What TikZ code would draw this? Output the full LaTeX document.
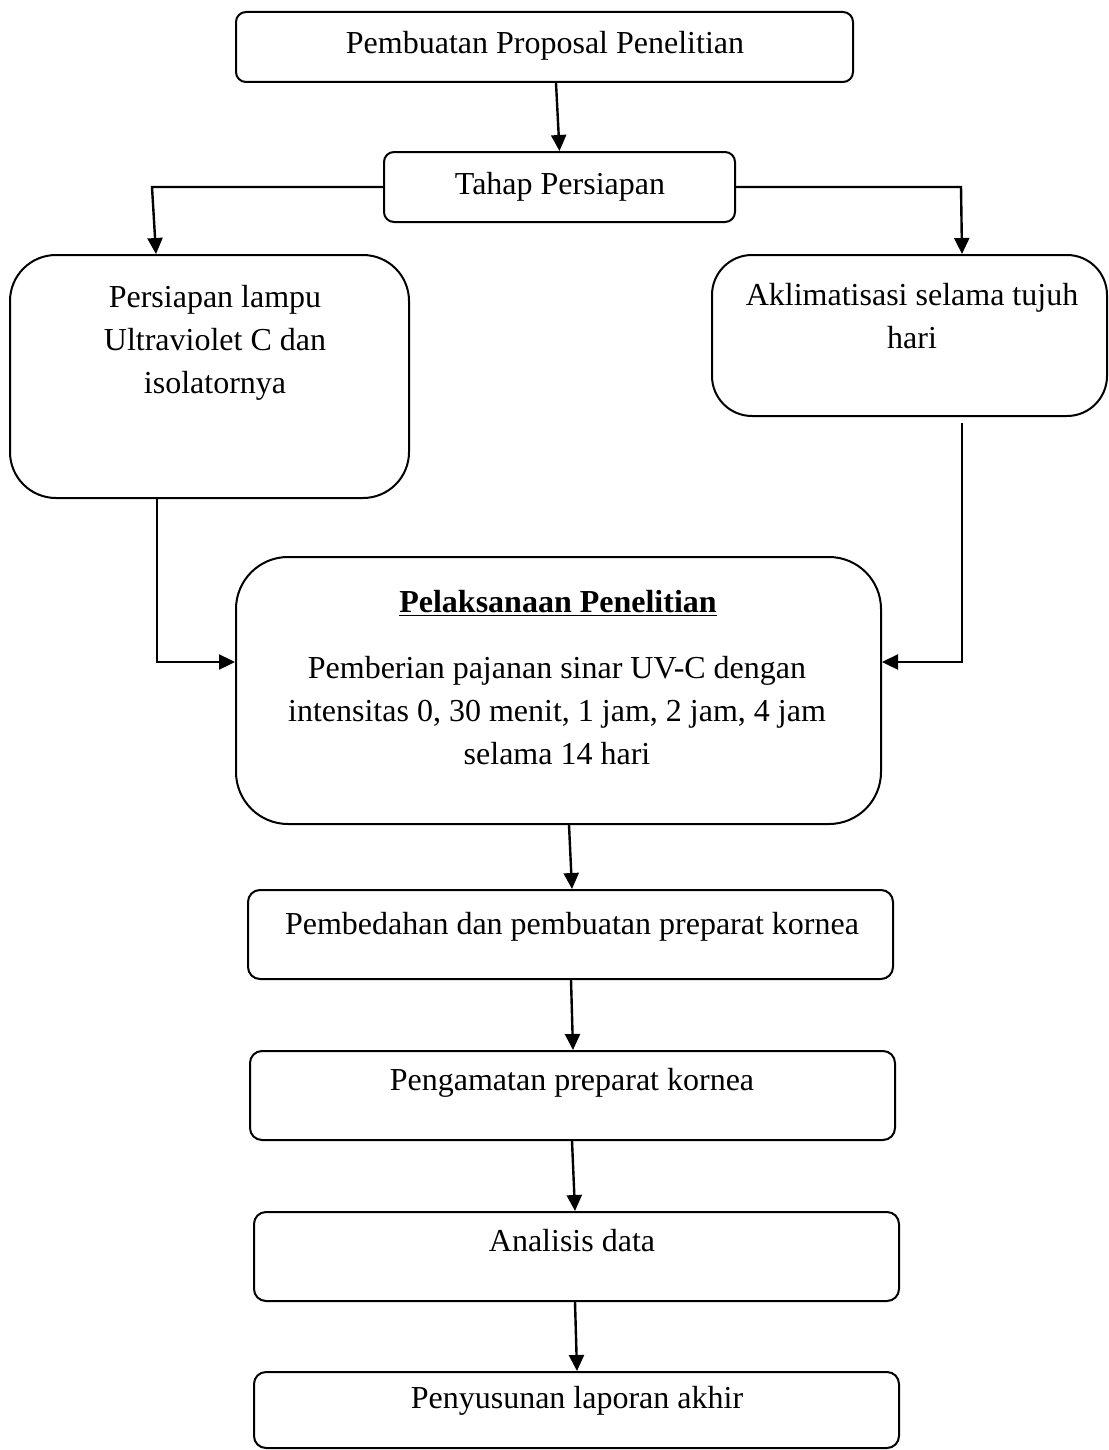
\documentclass[tikz,border=0pt]{standalone}
\usepackage{fontspec}
\setmainfont{Liberation Serif}
\usetikzlibrary{arrows.meta}
\begin{document}
\begin{tikzpicture}[x=0.5pt,y=-0.5pt,
  box/.style={draw, line width=1pt, inner sep=0pt},
  lbl/.style={inner sep=0pt, align=center, anchor=base, font=\fontsize{16}{21.5}\selectfont},
  arr/.style={line width=1.2pt, -{Triangle[length=8pt,width=7.5pt]}}]
\useasboundingbox (0,0) rectangle (1108,1450);
% boxes
\node[box, rounded corners=5pt, minimum width=308.5pt, minimum height=35pt] (b1) at (544.5,47) {};
\node[box, rounded corners=5pt, minimum width=175.5pt, minimum height=35pt] (b2) at (559.5,187) {};
\node[box, rounded corners=23pt, minimum width=199.5pt, minimum height=121.5pt] (b3) at (209.5,376.5) {};
\node[box, rounded corners=20pt, minimum width=197.5pt, minimum height=80.5pt] (b4) at (909.5,335.5) {};
\node[box, rounded corners=26pt, minimum width=322.5pt, minimum height=133.5pt] (b5) at (558.5,690.5) {};
\node[box, rounded corners=6pt, minimum width=322.5pt, minimum height=44.5pt] (b6) at (570.5,934.5) {};
\node[box, rounded corners=6pt, minimum width=322.5pt, minimum height=44.5pt] (b7) at (572.5,1095.5) {};
\node[box, rounded corners=6pt, minimum width=322.5pt, minimum height=44.5pt] (b8) at (576.5,1256.5) {};
\node[box, rounded corners=6pt, minimum width=322.5pt, minimum height=38pt] (b9) at (576.5,1410) {};
% labels
\node[lbl] (t1) at (545,54) {Pembuatan Proposal Penelitian};
\node[lbl] (t2) at (560,194) {Tahap Persiapan};
\node[lbl] (t3) at (215,393) {Persiapan lampu\\Ultraviolet C dan\\isolatornya};
\node[lbl] (t4) at (912,348) {Aklimatisasi selama tujuh\\hari};
\node[lbl] (t5a) at (558,612) {\underline{\textbf{Pelaksanaan Penelitian}}};
\node[lbl] (t5b) at (557,764) {Pemberian pajanan sinar UV-C dengan\\intensitas 0, 30 menit, 1 jam, 2 jam, 4 jam\\selama 14 hari};
\node[lbl] (t6) at (572,934) {Pembedahan dan pembuatan preparat kornea};
\node[lbl] (t7) at (572,1090) {Pengamatan preparat kornea};
\node[lbl] (t8) at (572,1251) {Analisis data};
\node[lbl] (t9) at (577,1408) {Penyusunan laporan akhir};
% connectors
\draw[arr] ([xshift=5.75pt]b1.south) -- (b2.north);
\draw[arr] (b2.west) -- ++(-231,0) -- ([xshift=-26.75pt]b3.north);
\draw[arr] (b2.east) -- ++(225,0) -- ([xshift=26.25pt]b4.north);
\draw[arr] ([xshift=-26.25pt]b3.south) |- ([yshift=14.25pt]b5.west);
\draw[arr] ([xshift=26.25pt,yshift=-3pt]b4.south) |- ([yshift=14.25pt]b5.east);
\draw[arr] ([xshift=5.25pt]b5.south) -- ([xshift=0.75pt]b6.north);
\draw[arr] ([xshift=0.25pt]b6.south) -- ([xshift=0.25pt]b7.north);
\draw[arr] ([xshift=-0.25pt]b7.south) -- ([xshift=-0.75pt]b8.north);
\draw[arr] ([xshift=-0.75pt]b8.south) -- ([xshift=0.25pt]b9.north);
\end{tikzpicture}
\end{document}
